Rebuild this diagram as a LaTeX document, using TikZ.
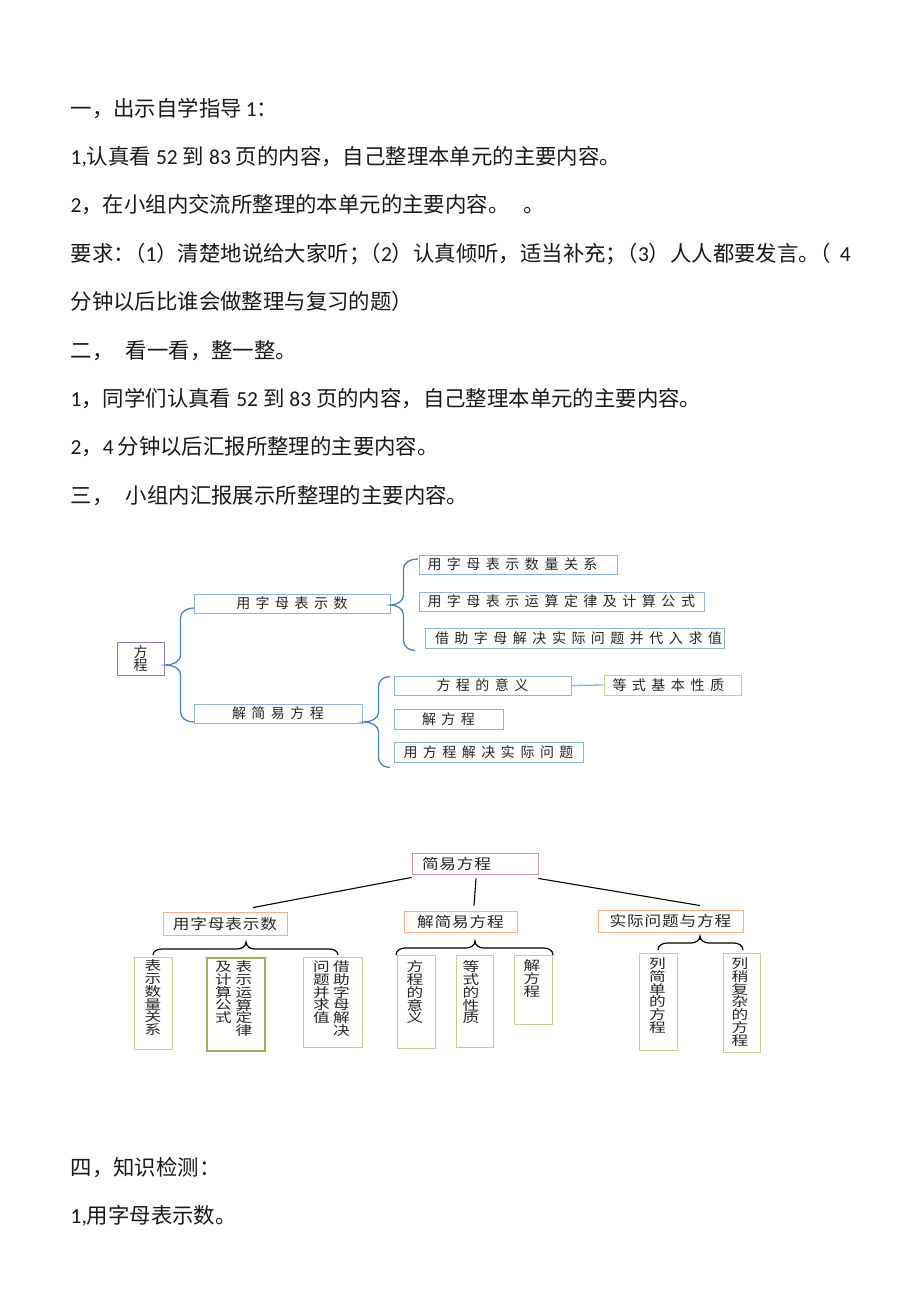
\documentclass[tikz,border=0pt]{standalone}
\usepackage{fontspec}
\setmainfont{Noto Sans CJK SC}
\newfontfamily\lat{Carlito}
\newfontfamily\dfont{Noto Sans CJK SC}
\newfontfamily\hfont[FakeStretch=1.15]{Noto Sans CJK SC}
\newfontfamily\vfont[FakeStretch=1.28]{Noto Sans CJK SC}
\usetikzlibrary{calc,shadows}
\newdimen\chsp
\def\lsp#1{\lspA#1\relax}
\def\lspA#1{\ifx\relax#1\else#1\expandafter\lspB\fi}
\def\lspB#1{\ifx\relax#1\else\kern\chsp#1\expandafter\lspB\fi}
\newcommand\dg[1]{\hspace{5pt}{\lat #1}\hspace{5pt}}
\definecolor{bxblue}{RGB}{141,179,226}
\definecolor{brblue}{RGB}{79,129,189}
\definecolor{bxpurple}{RGB}{150,125,185}
\definecolor{bxgreen}{RGB}{190,212,150}
\definecolor{bxgreenD}{RGB}{150,180,100}
\definecolor{bxred}{RGB}{217,150,148}
\definecolor{bxorange}{RGB}{248,178,128}
\definecolor{lnblue}{RGB}{149,179,215}
\tikzset{
  body/.style={anchor=base west, inner sep=0pt, font=\fontsize{21.4}{25}\selectfont, text=black!90},
  d1/.style={draw=bxblue, line width=0.9pt, fill=white, inner sep=0pt,
    font={\dfont\fontsize{14}{16}\selectfont\chsp=5.5pt}, text=black!85,
    drop shadow={shadow xshift=0.8pt, shadow yshift=-0.8pt, opacity=0.18}},
  d1l/.style={d1, inner xsep=8.5pt, align=left},
  bbrace/.style={draw=brblue, line width=1.3pt, line cap=round},
  d2/.style={line width=0.9pt, fill=white, inner sep=0pt,
    font={\hfont\fontsize{14.5}{16}\selectfont\chsp=0.8pt}, text=black!85,
    drop shadow={shadow xshift=0.8pt, shadow yshift=-0.8pt, opacity=0.18}},
  d2red/.style={d2, draw=bxred},
  d2or/.style={d2, draw=bxorange},
  vbox/.style={draw=bxgreen, line width=0.9pt, fill=white, inner sep=0pt, anchor=north west,
    drop shadow={shadow xshift=0.8pt, shadow yshift=-0.8pt, opacity=0.18}},
  vtxt/.style={anchor=north, inner sep=0pt, align=center,
    font={\vfont\fontsize{13}{12.8}\selectfont\lineskiplimit=-10pt}, text=black!85},
  kbrace/.style={draw=black, line width=1.2pt},
  kline/.style={draw=black, line width=1.1pt},
}
\newcommand\bbr[4]{\draw[bbrace] let \p1=(#1), \p2=(#2), \p3=(#3) in
  (\p2) to[out=180,in=90] (\x1+#4,\y2-10pt) -- (\x1+#4,\y1+10pt)
  to[out=-90,in=0] (\p1) to[out=0,in=90] (\x1+#4,\y1-10pt) -- (\x1+#4,\y3+10pt)
  to[out=-90,in=180] (\p3);}
\newcommand\kbr[6]{\draw[kbrace] (#1,#4) to[out=90,in=180] (#1+9,#5) -- (#3-9,#5)
  to[out=0,in=-90] (#3,#6) to[out=-90,in=180] (#3+9,#5) -- (#2-9,#5) to[out=0,in=90] (#2,#4);}
\begin{document}
\begin{tikzpicture}[x=1pt,y=-1pt]
\useasboundingbox (0,0) rectangle (920,1302);
\fill[white] (0,0) rectangle (920,1302);
% body text
\node[body] (t1) at (70.5,116.1) {一，出示自学指导\hspace{4pt}{\lat 1}：};
\node[body] (t2) at (70.5,164.5) {{\lat 1,}认真看\dg{52}到\dg{83}页的内容，自己整理本单元的主要内容。};
\node[body] (t3) at (70.5,212.9) {{\lat 2}，在小组内交流所整理的本单元的主要内容。\hspace{14pt}。};
\node[body] (t4) at (70.5,261.2) {要求：\kern-.5em（{\lat 1}）清楚地说给大家听；\kern-.5em（{\lat 2}）认真倾听，适当补充；\kern-.5em（{\lat 3}）人人都要发言。\kern-.5em（\hspace{9pt}{\lat 4}};
\node[body] (t5) at (70.5,309.6) {分钟以后比谁会做整理与复习的题）};
\node[body] (t6) at (70.5,358.0) {二，\hspace{12.5pt}看一看，整一整。};
\node[body] (t7) at (70.5,406.4) {{\lat 1}，同学们认真看\dg{52}到\dg{83}页的内容，自己整理本单元的主要内容。};
\node[body] (t8) at (70.5,454.7) {{\lat 2}，{\lat 4}\hspace{4pt}分钟以后汇报所整理的主要内容。};
\node[body] (t9) at (70.5,503.1) {三，\hspace{12.5pt}小组内汇报展示所整理的主要内容。};
\node[body] (t10) at (70.5,1175.1) {四，知识检测：};
\node[body] (t11) at (70.5,1223.1) {{\lat 1,}用字母表示数。};
% diagram 1
\node[d1, draw=bxpurple, minimum width=47pt, minimum height=33pt, align=center,
  font={\dfont\fontsize{14}{13.7}\selectfont\lineskiplimit=-10pt}] (fc) at (140.5,658.5) {方\\程};
\node[d1, minimum width=196pt, minimum height=19pt] (yz) at (292,603.5) {\lsp{用字母表示数}};
\node[d1l, text width=181pt, minimum height=19pt] (a1) at (518,564.5) {\lsp{用字母表示数量关系}};
\node[d1l, text width=268pt, minimum height=19pt] (a2) at (561.5,601.5) {\lsp{用字母表示运算定律及计算公式}};
\node[d1l, inner xsep=10pt, text width=279pt, minimum height=20pt] (a3) at (574.5,638) {\lsp{借助字母解决实际问题并代入求值}};
\node[d1, minimum width=168pt, minimum height=19pt] (jj) at (278,713.5) {\lsp{解简易方程}};
\node[d1, minimum width=177pt, minimum height=19pt] (b1) at (482.5,685.5) {\lsp{方程的意义}};
\node[d1l, draw=bxgreen, text width=120pt, minimum height=20pt] (b1x) at (672.5,685) {\lsp{等式基本性质}};
\node[d1, minimum width=109pt, minimum height=20pt] (b2) at (448.5,719) {\lsp{解方程}};
\node[d1, minimum width=189pt, minimum height=20pt] (b3) at (488.5,752) {\lsp{用方程解决实际问题}};
\draw[line width=1.3pt, draw=lnblue] (b1.east) -- (b1x.west);
\bbr{[xshift=1pt,yshift=-6.5pt]fc.east}{[yshift=-4.5pt]yz.west}{[yshift=-8.5pt]jj.west}{15pt}
\bbr{[yshift=-1.5pt]yz.east}{[xshift=-1pt,yshift=5.5pt]a1.west}{[xshift=-10pt,yshift=-2pt]a3.south west}{13pt}
\bbr{[xshift=1pt,yshift=-8.5pt]jj.east}{[xshift=-4pt,yshift=-1pt]b1.north west}{[xshift=-4pt,yshift=-5pt]b3.south west}{15pt}
% diagram 2
\node[d2red, minimum height=21pt, inner xsep=10pt, text width=106pt, align=left] (jy) at (475,863.5) {\lsp{简易方程}};
\node[d2or, minimum width=124pt, minimum height=23pt] (d2a) at (225,923.5) {\lsp{用字母表示数}};
\node[d2or, minimum width=113pt, minimum height=21pt] (d2b) at (460.5,921.5) {\lsp{解简易方程}};
\node[d2or, minimum width=145pt, minimum height=22pt] (d2c) at (670.5,921) {\lsp{实际问题与方程}};
\draw[kline] ([yshift=-3pt]jy.south west) -- ([xshift=28pt,yshift=4pt]d2a.north);
\draw[kline] ([xshift=1pt,yshift=-4pt]jy.south) -- ([xshift=13.5pt,yshift=5pt]d2b.north);
\draw[kline] ([yshift=-4pt]jy.south east) -- ([xshift=29.5pt,yshift=4pt]d2c.north);
\node[vbox, minimum width=38pt, minimum height=92pt] (v1) at (134,957) {};
\node[vbox, draw=bxgreenD, line width=1.6pt, minimum width=58pt, minimum height=93pt] (v2) at (206,957) {};
\node[vbox, minimum width=59pt, minimum height=90pt] (v3) at (303,957) {};
\node[vbox, minimum width=38pt, minimum height=93pt] (v4) at (397,955) {};
\node[vbox, minimum width=37pt, minimum height=92pt] (v5) at (456,955) {};
\node[vbox, minimum width=38pt, minimum height=69pt] (v6) at (514,955) {};
\node[vbox, minimum width=38pt, minimum height=97pt] (v7) at (639,953) {};
\node[vbox, minimum width=37pt, minimum height=99pt] (v8) at (723,953) {};
\node[vtxt] (v1t) at (153,959.5) {表\\示\\数\\量\\关\\系};
\node[vtxt] (v2r) at (244,960.5) {表\\示\\运\\算\\定\\律};
\node[vtxt] (v2l) at (223.5,961) {及\\计\\算\\公\\式};
\node[vtxt] (v3r) at (341.5,960.5) {借\\助\\字\\母\\解\\决};
\node[vtxt] (v3l) at (321.5,960.5) {问\\题\\并\\求\\值};
\node[vtxt] (v4t) at (415,960.5) {方\\程\\的\\意\\义};
\node[vtxt] (v5t) at (471,960.5) {等\\式\\的\\性\\质};
\node[vtxt] (v6t) at (532,959.5) {解\\方\\程};
\node[vtxt] (v7t) at (657.5,957.5) {列\\简\\单\\的\\方\\程};
\node[vtxt] (v8t) at (740,957.5) {列\\稍\\复\\杂\\的\\方\\程};
\kbr{153}{338}{246}{955}{949}{942}
\kbr{396}{553}{475}{955}{948}{941}
\kbr{658}{743}{700}{950}{943}{936}
\end{tikzpicture}
\end{document}
